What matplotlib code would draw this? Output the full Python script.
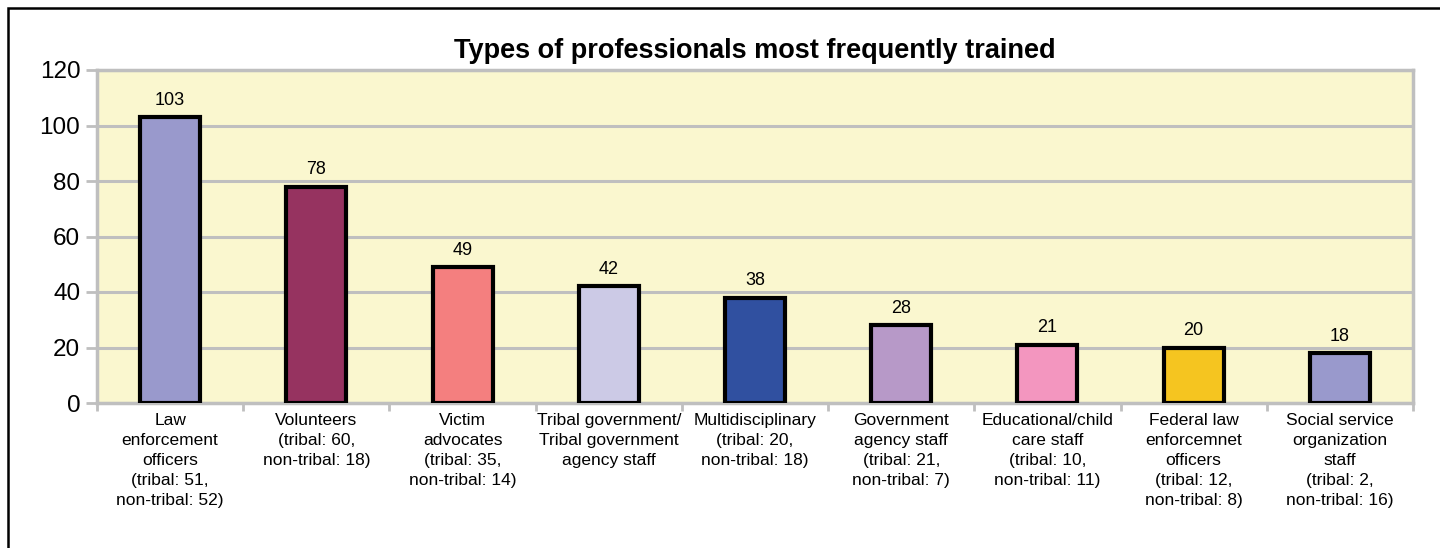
import numpy as np
import matplotlib.pyplot as plt
from matplotlib.patches import Rectangle

# chart data
categories = [
    'Law\nenforcement\nofficers\n(tribal: 51,\nnon-tribal: 52)',
    'Volunteers\n(tribal: 60,\nnon-tribal: 18)',
    'Victim\nadvocates\n(tribal: 35,\nnon-tribal: 14)',
    'Tribal government/\nTribal government\nagency staff',
    'Multidisciplinary\n(tribal: 20,\nnon-tribal: 18)',
    'Government\nagency staff\n(tribal: 21,\nnon-tribal: 7)',
    'Educational/child\ncare staff\n(tribal: 10,\nnon-tribal: 11)',
    'Federal law\nenforcemnet\nofficers\n(tribal: 12,\nnon-tribal: 8)',
    'Social service\norganization\nstaff\n(tribal: 2,\nnon-tribal: 16)',
]
counts = [103, 78, 49, 42, 38, 28, 21, 20, 18]
bar_colors = ['#9999CC', '#963360', '#F47F7F', '#CCCAE6', '#3050A0',
              '#B799C8', '#F396BF', '#F5C520', '#9999CC']
y_ticks = [0, 20, 40, 60, 80, 100, 120]

plt.rcParams['font.family'] = ['Liberation Sans', 'DejaVu Sans']

fig = plt.figure(figsize=(14.4, 5.48), dpi=100)
ax = fig.add_axes([97 / 1440, 1 - 403 / 548, (1413 - 97) / 1440, (403 - 70) / 548])

grid_c = '#BFBFBF'
ax.set_facecolor('#FAF7CF')
x = np.arange(len(counts))
ax.bar(x, counts, width=0.41, color=bar_colors, edgecolor='black', linewidth=3, zorder=3)
for xi, v in zip(x, counts):
    ax.text(xi, v + 3, str(v), ha='center', va='bottom', fontsize=13, zorder=4)

ax.set_xlim(-0.5, len(counts) - 0.5)
ax.set_ylim(0, 120)
ax.set_yticks(y_ticks)
ax.tick_params(axis='y', labelsize=17.5, length=8, width=2, color=grid_c, pad=4)
ax.yaxis.grid(True, color=grid_c, linewidth=2.2, zorder=0)
ax.set_axisbelow(True)

# boundary ticks (major) and centred labels (minor)
ax.set_xticks(np.arange(-0.5, len(counts)), labels=[])
ax.tick_params(axis='x', which='major', length=6, width=2, color=grid_c)
ax.set_xticks(x, labels=categories, minor=True)
ax.tick_params(axis='x', which='minor', length=0, pad=7, labelsize=12.5)
for lab in ax.get_xticklabels(minor=True):
    lab.set_linespacing(1.42)

for s in ax.spines.values():
    s.set_color(grid_c)
    s.set_linewidth(2.5)

fig.text((97 + 1413) / 2 / 1440, 1 - 58 / 548,
         'Types of professionals most frequently trained',
         ha='center', va='baseline', fontsize=19.5, fontweight='bold')

# outer chart frame (only left/top edges visible)
fig.patches.append(Rectangle((8 / 1440, -0.05), 1.1, 1 - 8 / 548 + 0.05,
                             transform=fig.transFigure, fill=False,
                             edgecolor='black', linewidth=1.8))

fig.savefig('out.png', dpi=100)
